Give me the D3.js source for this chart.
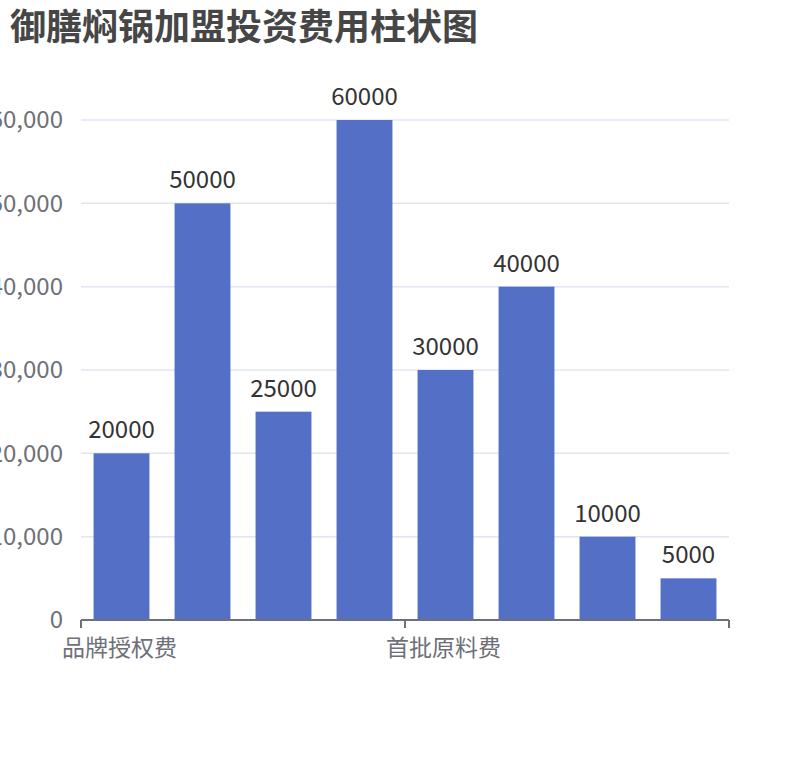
<!DOCTYPE html>
<html>
<head>
<meta charset="utf-8">
<script src="https://cdn.jsdelivr.net/npm/d3@7"></script>
<style>
  body { margin: 0; background: #fff; }
  svg { display: block; font-family: "Noto Sans CJK SC", "Noto Sans", sans-serif; }
</style>
</head>
<body>
<div id="chart"></div>
<script>
'use strict';

// categories (only every 4th label is shown on the axis)
const categories = ["品牌授权费", "店面装修费", "设备购置费", "店面租金", "首批原料费", "人员工资", "保证金", "其他费用"];
const values = [20000, 50000, 25000, 60000, 30000, 40000, 10000, 5000];
const yTicks = [0, 10000, 20000, 30000, 40000, 50000, 60000];
const labelInterval = 4;

const width = 810, height = 760;
const margin = {top: 120, right: 81, bottom: 140, left: 81};

let svg = d3.select("#chart").append("svg")
    .attr("width", width)
    .attr("height", height)
    .attr("viewBox", `0 0 ${width} ${height}`);

// title
svg.append("text")
    .attr("x", 10)
    .attr("y", 40)
    .attr("fill", "#464646")
    .style("font-size", "36px")
    .style("font-weight", "bold")
    .text("御膳焖锅加盟投资费用柱状图");

let x = d3.scaleBand()
    .domain(categories)
    .range([margin.left, width - margin.right])
    .paddingInner(0.31)
    .paddingOuter(0.155);

let y = d3.scaleLinear()
    .domain([0, 60000])
    .range([height - margin.bottom, margin.top]);

// grid lines
svg.append("g")
    .selectAll("line")
    .data(yTicks.filter(d => d > 0))
    .join("line")
        .attr("x1", margin.left)
        .attr("x2", width - margin.right)
        .attr("y1", d => y(d))
        .attr("y2", d => y(d))
        .attr("stroke", "#e0e6f1")
        .attr("stroke-width", 1.5);

// y labels (left part is cut by the page edge, as in the original)
svg.append("g")
    .selectAll("text")
    .data(yTicks)
    .join("text")
        .attr("x", margin.left - 18)
        .attr("y", d => y(d))
        .attr("dy", "0.35em")
        .attr("text-anchor", "end")
        .attr("fill", "#6e7079")
        .style("font-size", "24px")
        .text(d => d3.format(",")(d));

// bars
svg.append("g")
    .selectAll("rect")
    .data(values)
    .join("rect")
        .attr("x", (d, i) => x(categories[i]))
        .attr("y", d => y(d))
        .attr("width", x.bandwidth())
        .attr("height", d => y(0) - y(d))
        .attr("fill", "#5470c6");

// value labels
svg.append("g")
    .selectAll("text")
    .data(values)
    .join("text")
        .attr("x", (d, i) => x(categories[i]) + x.bandwidth() / 2)
        .attr("y", d => y(d) - 15)
        .attr("text-anchor", "middle")
        .attr("fill", "#333")
        .style("font-size", "24px")
        .text(d => d);

// x axis line + ticks
let y0 = y(0);
svg.append("line")
    .attr("x1", margin.left)
    .attr("x2", width - margin.right)
    .attr("y1", y0)
    .attr("y2", y0)
    .attr("stroke", "#6e7079")
    .attr("stroke-width", 2);

let step = x.step();
let tickIdx = d3.range(0, categories.length + 1, labelInterval);
svg.append("g")
    .selectAll("line")
    .data(tickIdx)
    .join("line")
        .attr("x1", i => margin.left + i * step)
        .attr("x2", i => margin.left + i * step)
        .attr("y1", y0)
        .attr("y2", y0 + 8)
        .attr("stroke", "#6e7079")
        .attr("stroke-width", 2);

svg.append("g")
    .selectAll("text")
    .data(categories.filter((c, i) => i % labelInterval == 0))
    .join("text")
        .attr("x", d => x(d) + x.bandwidth() / 2 - 2)
        .attr("y", y0 + 36)
        .attr("text-anchor", "middle")
        .attr("fill", "#6e7079")
        .style("font-size", "23px")
        .text(d => d);
</script>
</body>
</html>
